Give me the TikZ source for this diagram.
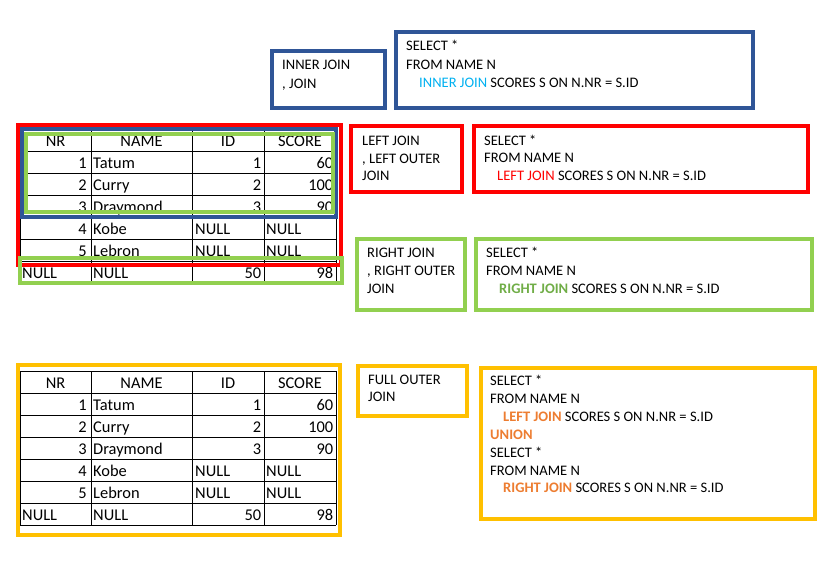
\documentclass[tikz,border=0pt]{standalone}
\usepackage{fontspec}
\setmainfont{Carlito}
\usepackage{xcolor}
\definecolor{boxblue}{HTML}{2F5597}
\definecolor{boxred}{HTML}{FF0000}
\definecolor{boxgreen}{HTML}{92D050}
\definecolor{boxyellow}{HTML}{FFC000}
\definecolor{joincyan}{HTML}{00B0F0}
\definecolor{joingreen}{HTML}{70AD47}
\definecolor{joinorange}{HTML}{ED7D31}
\tikzset{
  frame/.style={draw, line width=3pt},
  grid/.style={draw, line width=0.8pt},
  cell/.style={inner sep=0pt, font=\fontsize{14}{16}\selectfont},
  num/.style={cell, anchor=base east},
  word/.style={cell, anchor=base west},
  head/.style={cell, anchor=base},
  sql/.style={inner sep=0pt, anchor=base west, font=\fontsize{12.4}{14}\selectfont}
}

\begin{document}
\begin{tikzpicture}[x=0.03cm, y=-0.03cm]
    \useasboundingbox (0,0) rectangle (837,562);
    % Tables
    \foreach \t/\ty in {inner/129.7, full/371.3} {
      \foreach \r in {0,...,7}
        \draw[grid] (20,\ty+22*\r) -- (336,\ty+22*\r);
      \foreach \c in {20,91,192,264,336}
        \draw[grid] (\c,\ty) -- (\c,\ty+154);
      \node[head] (\t-nr) at (55.5,\ty+17) {NR};
      \node[head] (\t-name) at (141.5,\ty+17) {NAME};
      \node[head] (\t-id) at (228,\ty+17) {ID};
      \node[head] (\t-score) at (300,\ty+17) {SCORE};
      \foreach \nr/\name/\id/\score [count=\i] in {1/Tatum/1/60, 2/Curry/2/100, 3/Draymond/3/90} {
        \node[num] (\t-nr\i) at (87,\ty+17+22*\i) {\nr};
        \node[word] (\t-name\i) at (93,\ty+17+22*\i) {\name};
        \node[num] (\t-id\i) at (261.5,\ty+17+22*\i) {\id};
        \node[num] (\t-score\i) at (333.5,\ty+17+22*\i) {\score};
      }
      \foreach \nr/\name [count=\i from 4] in {4/Kobe, 5/Lebron} {
        \node[num] (\t-nr\i) at (87,\ty+17+22*\i) {\nr};
        \node[word] (\t-name\i) at (93,\ty+17+22*\i) {\name};
        \node[word] (\t-id\i) at (195,\ty+17+22*\i) {NULL};
        \node[word] (\t-score\i) at (266,\ty+17+22*\i) {NULL};
      }
      \node[word] (\t-nr6) at (22,\ty+149) {NULL};
      \node[word] (\t-name6) at (93,\ty+149) {NULL};
      \node[num] (\t-id6) at (261.5,\ty+149) {50};
      \node[num] (\t-score6) at (333.5,\ty+149) {98};
    }
    % Frames on the tables
    \draw[frame, boxred] (18,125) rectangle (341,265);
    \draw[frame, boxblue] (22,129) rectangle (336,217);
    \draw[frame, boxgreen] (26,134) rectangle (333,212);
    \draw[frame, boxgreen] (20,258) rectangle (342,283);
    \draw[frame, boxyellow] (18,365) rectangle (340,535);
    % Join boxes
    \draw[frame, boxblue] (272,51) rectangle (385,108);
    \draw[frame, boxblue] (396,32) rectangle (753,108);
    \draw[frame, boxred] (351,126) rectangle (462,192);
    \draw[frame, boxred] (474,126) rectangle (808,192);
    \draw[frame, boxgreen] (357,239) rectangle (465,310);
    \draw[frame, boxgreen] (476,239) rectangle (812,310);
    \draw[frame, boxyellow] (358,366) rectangle (467,416);
    \draw[frame, boxyellow] (481,368) rectangle (815,519);
    % Inner join
    \node[sql] (inner-l1) at (282,70) {INNER JOIN};
    \node[sql] (inner-l2) at (282,88.3) {, JOIN};
    \node[sql] (inner-q1) at (406,51) {SELECT *};
    \node[sql] (inner-q2) at (406,69.3) {FROM NAME N};
    \node[sql] (inner-q3) at (419,87.3) {\textcolor{joincyan}{INNER JOIN} SCORES S ON N.NR = S.ID};
    % Left join
    \node[sql] (left-l1) at (362,145) {LEFT JOIN};
    \node[sql] (left-l2) at (362,163.3) {, LEFT OUTER};
    \node[sql] (left-l3) at (362,180.7) {JOIN};
    \node[sql] (left-q1) at (484,145) {SELECT *};
    \node[sql] (left-q2) at (484,162.7) {FROM NAME N};
    \node[sql] (left-q3) at (497,180.7) {\textcolor{boxred}{LEFT JOIN} SCORES S ON N.NR = S.ID};
    % Right join
    \node[sql] (right-l1) at (367,257.7) {RIGHT JOIN};
    \node[sql] (right-l2) at (367,275.7) {, RIGHT OUTER};
    \node[sql] (right-l3) at (367,293.3) {JOIN};
    \node[sql] (right-q1) at (486,257.7) {SELECT *};
    \node[sql] (right-q2) at (486,275.7) {FROM NAME N};
    \node[sql] (right-q3) at (499,293.3) {\textcolor{joingreen}{\bfseries RIGHT JOIN} SCORES S ON N.NR = S.ID};
    % Full outer join
    \node[sql] (full-l1) at (368,384.3) {FULL OUTER};
    \node[sql] (full-l2) at (368,401.7) {JOIN};
    \node[sql] (full-q1) at (490,385.7) {SELECT *};
    \node[sql] (full-q2) at (490,403.3) {FROM NAME N};
    \node[sql] (full-q3) at (503,421) {\textcolor{joinorange}{\bfseries LEFT JOIN} SCORES S ON N.NR = S.ID};
    \node[sql] (full-q4) at (490,439.3) {\textcolor{joinorange}{\bfseries UNION}};
    \node[sql] (full-q5) at (490,457.3) {SELECT *};
    \node[sql] (full-q6) at (490,475) {FROM NAME N};
    \node[sql] (full-q7) at (503,492.7) {\textcolor{joinorange}{\bfseries RIGHT JOIN} SCORES S ON N.NR = S.ID};
\end{tikzpicture}
\end{document}
